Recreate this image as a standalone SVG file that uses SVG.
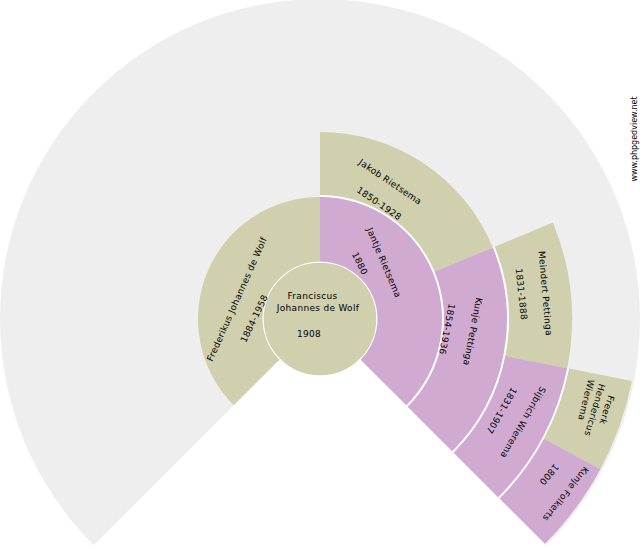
<svg xmlns="http://www.w3.org/2000/svg" width="640" height="550" viewBox="0 0 640 550">
<style>
.m{fill:#D0D0AE}
.f{fill:#D0AAD0}
.sep{fill:none;stroke:#FFFFFF;stroke-width:1.5}
text{font-family:"DejaVu Sans","Liberation Sans",sans-serif;font-size:9px;fill:#000;text-anchor:middle;letter-spacing:0.3px}
.wm{font-size:8px;letter-spacing:0}
</style>
<rect width="640" height="550" fill="#FFFFFF"/>
<path id="background" d="M320,319 L93.73,545.27 A320,320 0 1 1 546.27,545.27 Z" fill="#EEEEEE"/>
<g id="node-franciscus">
<circle class="m" cx="320" cy="319" r="57" stroke="#FFFFFF" stroke-width="1.5"/>
<text x="312.5" y="299">Franciscus</text>
<text x="318" y="310.5">Johannes de Wolf</text>
<text x="309" y="336.5">1908</text>
</g>
<g id="node-frederikus">
<path class="m" d="M233.73,405.27 A122,122 0 0 1 320,197 L320,261.5 A57.5,57.5 0 0 0 279.34,359.66 Z"/>
<text transform="translate(236.7,299) rotate(-66)" y="3.3">Frederikus Johannes de Wolf</text>
<text transform="translate(254,318.5) rotate(-64.5)" y="3.3">1884-1958</text>
</g>
<g id="node-jantje">
<path class="f" d="M320,197 A122,122 0 0 1 406.27,405.27 L360.66,359.66 A57.5,57.5 0 0 0 320,261.5 Z"/>
<text transform="translate(384.2,262.5) rotate(67)" y="3.3">Jantje Rietsema</text>
<text transform="translate(360,263.3) rotate(64)" y="3.3">1880</text>
</g>
<g id="node-jakob">
<path class="m" d="M320,132 A187,187 0 0 1 492.77,247.44 L434.56,271.55 A124,124 0 0 0 320,195 Z"/>
<path class="sep" d="M320,196 A123,123 0 0 1 433.64,271.93"/>
<text transform="translate(390.5,181.7) rotate(34)" y="3.3">Jakob Rietsema</text>
<text transform="translate(379.2,203.3) rotate(34)" y="3.3">1850-1928</text>
</g>
<g id="node-kunje-pettinga">
<path class="f" d="M492.77,247.44 A187,187 0 0 1 452.23,451.23 L407.68,406.68 A124,124 0 0 0 434.56,271.55 Z"/>
<path class="sep" d="M433.64,271.93 A123,123 0 0 1 406.97,405.97"/>
<text transform="translate(473,331.7) rotate(101)" y="3.3">Kunje Pettinga</text>
<text transform="translate(447.2,329.2) rotate(101)" y="3.3">1854-1936</text>
</g>
<g id="node-meindert">
<path class="m" d="M552.82,222.56 A252,252 0 0 1 567.16,368.17 L505.37,355.87 A189,189 0 0 0 494.62,246.67 Z"/>
<path class="sep" d="M493.69,247.05 A188,188 0 0 1 504.39,355.68"/>
<text transform="translate(545.5,293.3) rotate(85)" y="3.3">Meindert Pettinga</text>
<text transform="translate(521.7,294.2) rotate(84)" y="3.3">1831-1888</text>
</g>
<g id="node-sijbrich">
<path class="f" d="M567.16,368.17 A252,252 0 0 1 498.19,497.19 L453.64,452.64 A189,189 0 0 0 505.37,355.87 Z"/>
<path class="sep" d="M504.39,355.68 A188,188 0 0 1 452.94,451.94"/>
<text transform="translate(523.3,422.5) rotate(120)" y="3.3">Sijbrich Wierema</text>
<text transform="translate(501.7,410.8) rotate(120)" y="3.3">1831-1907</text>
</g>
<g id="node-freerk">
<path class="m" d="M631.89,381.04 A318,318 0 0 1 600.44,468.91 L544,438.74 A254,254 0 0 0 569.12,368.56 Z"/>
<path class="sep" d="M568.14,368.36 A253,253 0 0 1 543.12,438.27"/>
<text transform="translate(607,410) rotate(108)" y="3.3">Freerk</text>
<text transform="translate(595,410) rotate(106)" y="3.3">Hendericus</text>
<text transform="translate(586.3,400) rotate(104)" y="3.3">Wierema</text>
</g>
<g id="node-kunje-folkerts">
<path class="f" d="M600.44,468.91 A318,318 0 0 1 544.86,543.86 L499.6,498.6 A254,254 0 0 0 544,438.74 Z"/>
<path class="sep" d="M543.12,438.27 A253,253 0 0 1 498.9,497.9"/>
<text transform="translate(565.7,494.2) rotate(129)" y="3.3">Kunje Folkerts</text>
<text transform="translate(549.2,474.7) rotate(130)" y="3.3">1800</text>
</g>
<g id="connectors"/>
<text class="wm" transform="translate(636.5,139) rotate(-90)">www.phpgedview.net</text>
</svg>
